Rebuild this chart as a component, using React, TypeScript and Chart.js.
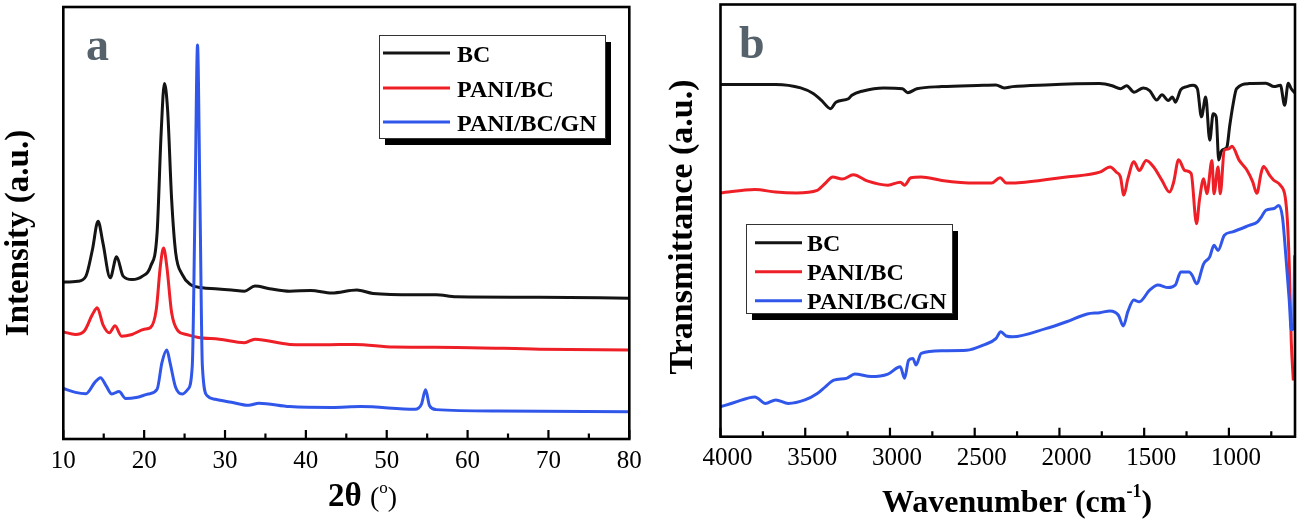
import React, { useEffect, useRef } from "react";
import { Chart, registerables } from "chart.js";
Chart.register(...registerables);

const SERIES_LABELS = ["BC", "PANI/BC", "PANI/BC/GN"];
const SERIES_COLORS = ["#141414", "#ee1f26", "#3157ea"];

// ---- Panel a : XRD (2θ in degrees, intensity a.u.)
const A_BC_X = [10, 11.8, 12.8, 13.6, 14.3, 14.9, 15.8, 16.6, 17.4, 18.5, 19.8, 20.8, 21.6, 22.1, 22.5, 22.9, 23.4, 23.9, 24.7, 25.7, 27.2, 28.8, 30.8, 32.4, 33.7, 35.5, 38.0, 40.6, 43.2, 46.3, 48.3, 53.5, 56.1, 58.6, 68.9, 80];
const A_BC_Y = [36.3, 36.5, 37.7, 43.8, 50.4, 45.4, 37.3, 42.2, 37.7, 36.9, 37.7, 40, 47.7, 70.8, 82.3, 76.2, 55.4, 43.1, 38.1, 35.8, 35, 34.8, 34.5, 34.2, 35.4, 34.8, 34.2, 34.4, 33.8, 34.5, 33.7, 33.4, 33.4, 32.9, 32.8, 32.6];

const A_PB_X = [10, 11.5, 12.6, 13.6, 14.2, 14.9, 15.7, 16.4, 17.2, 18.5, 20, 20.8, 21.5, 22.0, 22.4, 22.8, 23.4, 24.2, 25.2, 26.7, 29.3, 32.4, 33.7, 38.0, 42.2, 46.0, 50.9, 58.6, 68.9, 80];
const A_PB_Y = [24.8, 24.2, 25, 28.8, 30.4, 26.5, 24.6, 26.2, 23.8, 24.2, 25.4, 25.8, 30, 40, 44.2, 40, 29.2, 25, 24.2, 23.5, 23.1, 22.3, 23.1, 21.9, 21.8, 21.9, 21.3, 21.2, 20.8, 20.6];

const A_PBG_X = [10, 11.5, 12.8, 13.9, 14.6, 15.3, 16.0, 16.9, 17.7, 19.0, 20.5, 21.6, 22.2, 22.8, 23.2, 23.9, 24.7, 25.4, 25.95, 26.3, 26.6, 26.9, 27.2, 27.8, 28.8, 30.8, 32.9, 34.2, 38.0, 43.2, 46.8, 53.5, 54.3, 54.8, 55.3, 56.1, 63.8, 80];
const A_PBG_Y = [11.7, 10.8, 10.5, 13.1, 14.2, 12.3, 10.4, 11, 9.4, 9.6, 10.4, 11.5, 17.7, 20.6, 17.7, 11.9, 10.4, 11.5, 16.9, 55.4, 91.2, 55.4, 16.9, 10, 9.2, 8.5, 7.8, 8.3, 7.5, 7.3, 7.5, 6.9, 8.1, 11.4, 7.7, 6.8, 6.5, 6.3];

const A_X_MAJOR = [10, 20, 30, 40, 50, 60, 70, 80];
const A_X_MINOR = [15, 25, 35, 45, 55, 65, 75];

// ---- Panel b : FTIR (wavenumber cm-1, transmittance a.u.)
const B_BC_X = [4000, 3674, 3527, 3453, 3404, 3350, 3319, 3245, 3225, 3159, 3037, 2926, 2895, 2841, 2694, 2449, 2375, 2326, 2277, 2081, 1762, 1689, 1640, 1603, 1559, 1505, 1468, 1426, 1395, 1358, 1333, 1316, 1284, 1248, 1211, 1186, 1162, 1137, 1113, 1093, 1075, 1060, 1045, 1030, 1012, 995, 975, 955, 880, 782, 733, 696, 671, 650, 632, 610];
const B_BC_Y = [81.5, 81.5, 80.7, 79.4, 77.8, 75.9, 77.4, 78.2, 79, 80, 80.7, 80.5, 79.6, 80.5, 81, 81.3, 81.4, 80.7, 81, 81.4, 81.7, 81.2, 80.5, 81.2, 79.7, 80.7, 80.1, 77.9, 79.1, 77.8, 78.6, 77.4, 80.3, 81, 81.3, 80.5, 74, 78.6, 68.6, 74.7, 74, 64, 66, 66.5, 67, 72, 77, 80.5, 81.7, 81.8, 81, 81.3, 76.7, 81.8, 80.5, 79.5];

const B_PB_X = [4000, 3797, 3674, 3551, 3429, 3380, 3338, 3282, 3216, 3135, 3012, 2939, 2914, 2877, 2816, 2694, 2498, 2400, 2350, 2314, 2203, 1958, 1762, 1701, 1664, 1640, 1620, 1596, 1561, 1529, 1488, 1444, 1395, 1350, 1326, 1297, 1260, 1223, 1191, 1174, 1149, 1130, 1100, 1088, 1064, 1051, 1027, 1000, 982, 940, 894, 860, 835, 810, 796, 760, 737, 697, 668, 655, 644, 632, 620];
const B_PB_Y = [56.4, 57.2, 56.6, 56.4, 57, 58.7, 60.1, 59.6, 60.6, 59.2, 58.2, 58.9, 58.2, 59.9, 60.1, 59.3, 58.7, 58.7, 59.9, 58.7, 58.9, 60.1, 61.2, 62.4, 61.2, 60.1, 55.9, 59.7, 63.6, 61.6, 63.9, 62.4, 59.3, 56.6, 58.9, 64.1, 61.6, 60.9, 49.3, 54.7, 59.7, 56.2, 63.9, 56.2, 62.4, 56.2, 66.3, 66.6, 67.2, 64, 61.7, 59, 56.3, 61, 62.5, 60.5, 59.4, 58.2, 55.5, 50, 40, 22, 13];

const B_PBG_X = [4000, 3919, 3797, 3735, 3674, 3600, 3502, 3429, 3380, 3331, 3257, 3208, 3110, 3012, 2939, 2914, 2890, 2865, 2846, 2816, 2694, 2547, 2449, 2375, 2346, 2314, 2277, 2081, 1958, 1836, 1762, 1701, 1652, 1623, 1596, 1561, 1529, 1468, 1419, 1358, 1316, 1284, 1235, 1216, 1191, 1149, 1113, 1088, 1064, 1027, 978, 880, 831, 806, 782, 733, 706, 684, 662, 644, 632, 620, 612];
const B_PBG_Y = [6.9, 7.9, 9.2, 7.7, 8.5, 7.7, 8.5, 10, 11.6, 13.1, 13.5, 14.5, 13.9, 14.5, 16.2, 13.5, 17.7, 18.1, 16.6, 19.3, 19.9, 20, 21.2, 22.7, 24.3, 23.3, 23.1, 25, 26.6, 28.4, 28.7, 29.1, 28.1, 25.6, 29, 31.6, 31.2, 33.9, 35.1, 34.5, 35.1, 38.1, 38.1, 37.3, 35.4, 40, 41.6, 44.3, 43.1, 46.6, 47.4, 48.9, 49.7, 51, 52.4, 52.8, 53.5, 50.8, 40.8, 31.6, 24.7, 25, 42];

const B_X_MAJOR = [4000, 3500, 3000, 2500, 2000, 1500, 1000];
const B_X_MINOR = [3750, 3250, 2750, 2250, 1750, 1250, 750];

const SERIF = '"Liberation Serif", "Times New Roman", serif';

type Seg = { t: string; font: string; dy: number };
type Decor = {
  major: number[];
  minor: number[];
  letter: string;
  letterX: number;
  letterY: number;
  legend: { x: number; y: number; w: number; h: number; lx0: number; lx1: number; tx: number; rows: number[]; dyText: number; font: string };
  xTitle: { x: number; y: number; segs: Seg[] };
  yTitle: { x: number; y: number; text: string; font: string };
};

function zip(xs: number[], ys: number[]) {
  return xs.map((x, i) => ({ x, y: ys[i] }));
}

function decorPlugin(d: Decor) {
  return {
    id: "panelDecor",
    afterDraw(chart: any) {
      const { ctx, chartArea: a } = chart;
      const xs = chart.scales.x;
      ctx.save();
      // frame
      ctx.strokeStyle = "#000";
      ctx.lineWidth = 2.6;
      ctx.strokeRect(a.left, a.top, a.right - a.left, a.bottom - a.top);
      // inward ticks
      ctx.lineWidth = 2.2;
      ctx.beginPath();
      for (const v of d.major) {
        const p = xs.getPixelForValue(v);
        ctx.moveTo(p, a.bottom);
        ctx.lineTo(p, a.bottom - 9);
      }
      for (const v of d.minor) {
        const p = xs.getPixelForValue(v);
        ctx.moveTo(p, a.bottom);
        ctx.lineTo(p, a.bottom - 5.5);
      }
      ctx.stroke();
      // panel letter
      ctx.fillStyle = "#56626b";
      ctx.font = `bold 46px ${SERIF}`;
      ctx.textBaseline = "alphabetic";
      ctx.textAlign = "left";
      ctx.fillText(d.letter, d.letterX, d.letterY);
      // legend
      const L = d.legend;
      ctx.fillStyle = "#000";
      ctx.fillRect(L.x + 6, L.y + 7, L.w, L.h);
      ctx.fillStyle = "#fff";
      ctx.fillRect(L.x, L.y, L.w, L.h);
      ctx.strokeStyle = "#333";
      ctx.lineWidth = 1;
      ctx.strokeRect(L.x + 0.5, L.y + 0.5, L.w, L.h);
      chart.data.datasets.forEach((ds: any, i: number) => {
        const y = L.rows[i];
        ctx.strokeStyle = ds.borderColor;
        ctx.lineWidth = 3;
        ctx.beginPath();
        ctx.moveTo(L.lx0, y);
        ctx.lineTo(L.lx1, y);
        ctx.stroke();
        ctx.fillStyle = "#000";
        ctx.font = L.font;
        ctx.fillText(ds.label, L.tx, y + L.dyText);
      });
      // x title
      let x = d.xTitle.x;
      ctx.fillStyle = "#000";
      for (const s of d.xTitle.segs) {
        ctx.font = s.font;
        ctx.fillText(s.t, x, d.xTitle.y + s.dy);
        x += ctx.measureText(s.t).width;
      }
      // y title
      ctx.translate(d.yTitle.x, d.yTitle.y);
      ctx.rotate(-Math.PI / 2);
      ctx.font = d.yTitle.font;
      ctx.textAlign = "center";
      ctx.fillText(d.yTitle.text, 0, 0);
      ctx.restore();
    },
  };
}

function makeConfig(opts: {
  series: { x: number[]; y: number[] }[];
  xmin: number;
  xmax: number;
  reverse: boolean;
  major: number[];
  pad: { left: number; right: number; top: number };
  axisH: number;
  labelOffset: number;
  decor: Decor;
}): any {
  return {
    type: "line",
    data: {
      datasets: opts.series.map((s, i) => ({
        label: SERIES_LABELS[i],
        data: zip(s.x, s.y),
        borderColor: SERIES_COLORS[i],
        backgroundColor: SERIES_COLORS[i],
        borderWidth: 3,
        pointRadius: 0,
        fill: false,
        cubicInterpolationMode: "monotone",
        order: 2 - i,
      })),
    },
    options: {
      animation: false,
      responsive: true,
      maintainAspectRatio: false,
      layout: { padding: { left: opts.pad.left, right: opts.pad.right, top: opts.pad.top, bottom: 0 } },
      plugins: { legend: { display: false }, tooltip: { enabled: false } },
      scales: {
        x: {
          type: "linear",
          min: opts.xmin,
          max: opts.xmax,
          reverse: opts.reverse,
          grid: { display: false, drawTicks: false },
          border: { display: false },
          ticks: {
            autoSkip: false,
            maxRotation: 0,
            padding: 7,
            labelOffset: opts.labelOffset,
            color: "#000",
            font: { family: SERIF, size: 25 },
            callback: (v: any) => String(v),
          },
          afterBuildTicks: (s: any) => {
            s.ticks = opts.major.map((v) => ({ value: v }));
          },
          afterFit: (s: any) => {
            s.height = opts.axisH;
          },
        },
        y: { type: "linear", min: 0, max: 100, display: false },
      },
    },
    plugins: [decorPlugin(opts.decor)],
  };
}

function Panel({ width, height, config }: { width: number; height: number; config: () => any }) {
  const ref = useRef<HTMLCanvasElement>(null);
  useEffect(() => {
    const chart = new Chart(ref.current as HTMLCanvasElement, config());
    return () => chart.destroy();
  }, []);
  return (
    <div style={{ position: "relative", width, height }}>
      <canvas ref={ref} />
    </div>
  );
}

const configA = () =>
  makeConfig({
    series: [
      { x: A_BC_X, y: A_BC_Y },
      { x: A_PB_X, y: A_PB_Y },
      { x: A_PBG_X, y: A_PBG_Y },
    ],
    xmin: 10,
    xmax: 80,
    reverse: false,
    major: A_X_MAJOR,
    pad: { left: 63.3, right: 20.7, top: 7 },
    axisH: 83,
    labelOffset: 0,
    decor: {
      major: A_X_MAJOR,
      minor: A_X_MINOR,
      letter: "a",
      letterX: 86,
      letterY: 60,
      legend: { x: 379, y: 35, w: 226, h: 103, lx0: 383, lx1: 450, tx: 457, rows: [53, 88, 122], dyText: 9, font: `bold 24px ${SERIF}` },
      xTitle: {
        x: 328,
        y: 506,
        segs: [
          { t: "2θ ", font: `bold 33px ${SERIF}`, dy: 0 },
          { t: "(", font: `28px ${SERIF}`, dy: 0 },
          { t: "o", font: `17px ${SERIF}`, dy: -13 },
          { t: ")", font: `28px ${SERIF}`, dy: 0 },
        ],
      },
      yTitle: { x: 28, y: 233, text: "Intensity (a.u.)", font: `bold 33px ${SERIF}` },
    },
  });

const configB = () =>
  makeConfig({
    series: [
      { x: B_BC_X, y: B_BC_Y },
      { x: B_PB_X, y: B_PB_Y },
      { x: B_PBG_X, y: B_PBG_Y },
    ],
    xmin: 610,
    xmax: 4000,
    reverse: true,
    major: B_X_MAJOR,
    pad: { left: 70.5, right: 7, top: 4.5 },
    axisH: 85.3,
    labelOffset: 7,
    decor: {
      major: B_X_MAJOR,
      minor: B_X_MINOR,
      letter: "b",
      letterX: 89,
      letterY: 58,
      legend: { x: 96, y: 224, w: 206, h: 89, lx0: 105, lx1: 152, tx: 157, rows: [242.7, 271.7, 300.7], dyText: 8, font: `bold 24px ${SERIF}` },
      xTitle: {
        x: 232,
        y: 512,
        segs: [
          { t: "Wavenumber (cm", font: `bold 32px ${SERIF}`, dy: 0 },
          { t: "-1", font: `bold 18px ${SERIF}`, dy: -15 },
          { t: ")", font: `bold 32px ${SERIF}`, dy: 0 },
        ],
      },
      yTitle: { x: 42, y: 227, text: "Transmittance (a.u.)", font: `bold 34px ${SERIF}` },
    },
  });

export default function App() {
  return (
    <div style={{ position: "absolute", left: 0, top: 0, width: 1302, height: 522, display: "flex", background: "#fff" }}>
      <Panel width={650} height={522} config={configA} />
      <Panel width={652} height={522} config={configB} />
    </div>
  );
}
